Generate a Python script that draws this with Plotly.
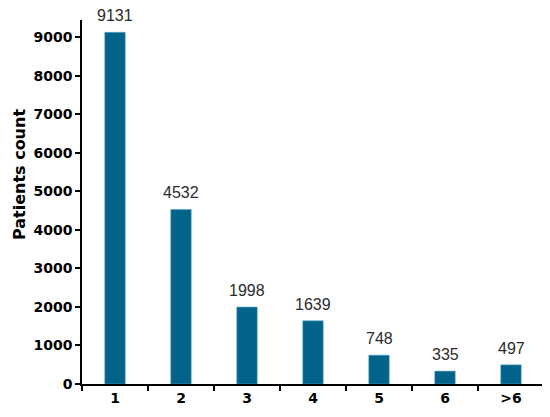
import plotly.graph_objects as go

categories = ['1', '2', '3', '4', '5', '6', '>6']
patients = [9131, 4532, 1998, 1639, 748, 335, 497]
y_ticks = [0, 1000, 2000, 3000, 4000, 5000, 6000, 7000, 8000, 9000]

# the page has an 8px body margin, so the figure is sized to fit the window
fig = go.Figure(go.Bar(
    x=categories,
    y=patients,
    marker_color='#01628a',
    marker_line=dict(color='#5fa9c4', width=0.6),
    width=0.31,
))

# value labels sit a little higher above the bars than plotly's outside text
# (category position by index, since '1'..'6' would be read as numbers)
for i, val in enumerate(patients):
    fig.add_annotation(
        x=i, y=val, text=str(val),
        showarrow=False, yanchor='bottom', yshift=6,
        font=dict(family='Liberation Sans, Arial', size=16, color='#2b2b2b'),
    )

fig.add_annotation(
    xref='paper', yref='paper', x=0, y=0.574, xshift=-63,
    xanchor='center', yanchor='middle',
    text='<b>Patients count</b>', textangle=-90, showarrow=False,
    font=dict(family='DejaVu Sans', size=16, color='black'),
)

fig.update_layout(
    width=542, height=409,
    margin=dict(l=74, r=6, t=12, b=33),
    paper_bgcolor='white',
    plot_bgcolor='white',
    font=dict(family='DejaVu Sans', color='black'),
    showlegend=False,
)

fig.update_xaxes(
    type='category',
    tickson='boundaries',
    ticks='outside', ticklen=5, tickwidth=1.5, tickcolor='black',
    showline=True, linecolor='black', linewidth=1.5,
    showgrid=False,
    tickfont=dict(size=14, color='black', family='DejaVu Sans'),
    tickprefix='<b>', ticksuffix='</b>',
)

fig.update_yaxes(
    range=[0, 9450],
    tickvals=y_ticks,
    ticktext=[f'<b>{v}</b>' for v in y_ticks],
    ticks='outside', ticklen=5, tickwidth=1.5, tickcolor='black',
    showline=True, linecolor='black', linewidth=1.5,
    showgrid=False, zeroline=False,
    tickfont=dict(size=14, color='black'),
)

fig.write_html("out.html")
